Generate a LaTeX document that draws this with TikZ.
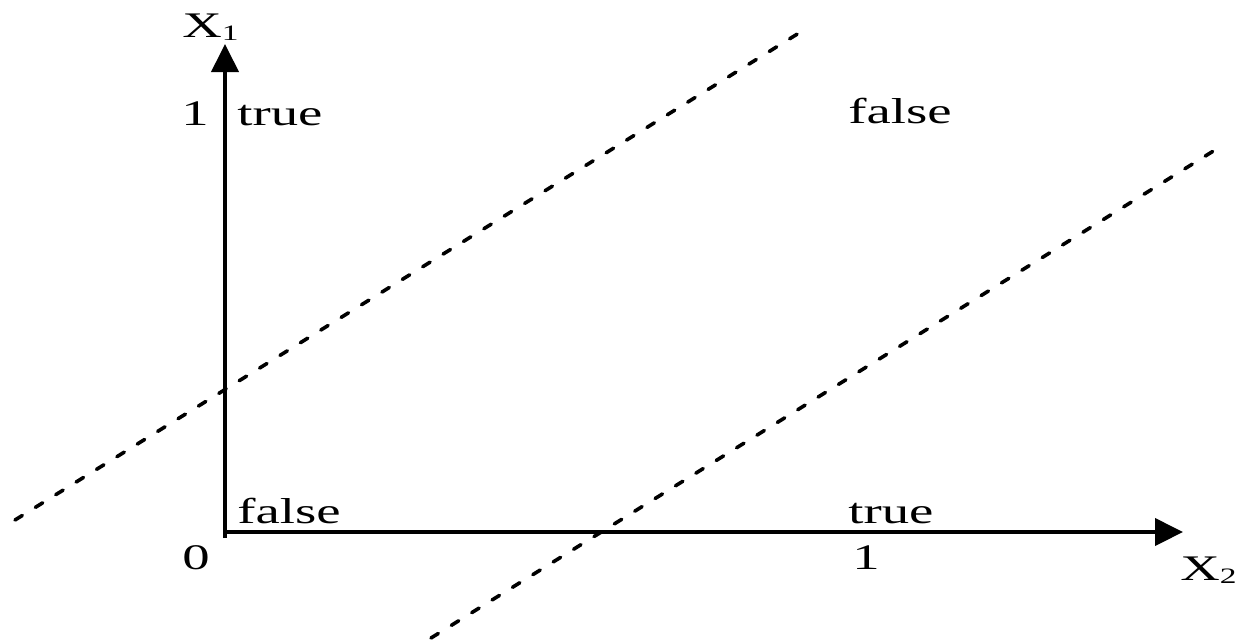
\documentclass[tikz,border=0pt]{standalone}
\usepackage{fontspec}
\setmainfont[FakeStretch=1.52]{Liberation Serif}
\usetikzlibrary{arrows.meta}
\tikzset{
  axis/.style={line width=2pt, -{Triangle[length=14pt,width=13.5pt]}},
  sep/.style={line width=1.8pt, line cap=round, dash pattern=on 4.3pt off 7.7pt},
  lbl/.style={anchor=base west, inner sep=0pt, font=\fontsize{18pt}{20pt}\selectfont}
}
\newcommand{\subidx}[1]{\raisebox{-1.8pt}{\fontsize{11pt}{12pt}\selectfont #1}}
\begin{document}
\begin{tikzpicture}[x=0.5pt,y=-0.5pt]
\useasboundingbox (0,0) rectangle (1235,639);
% axes
\coordinate (o) at (224,532);
\coordinate (vb) at (225,538);
\coordinate (vt) at (225,44);
\coordinate (hr) at (1183,532);
\draw[axis] (vb) -- (vt);
\draw[axis] (o) -- (hr);
% separating lines
\coordinate (a1) at (15,520);
\coordinate (a2) at (807,28);
\coordinate (b1) at (431,638);
\coordinate (b2) at (1223,145);
\draw[sep] (a1) -- (a2);
\draw[sep] (b1) -- (b2);
% labels
\node[lbl] (x1) at (182,37) {X\subidx{1}};
\node[lbl] (one1) at (181,125) {1};
\node[lbl] (t1) at (237,125) {true};
\node[lbl] (f1) at (848,123) {false};
\node[lbl] (f0) at (237,523) {false};
\node[lbl] (t0) at (848,523) {true};
\node[lbl] (zero) at (182,569) {0};
\node[lbl] (one2) at (852,569) {1};
\node[lbl] (x2) at (1180,580) {X\subidx{2}};
\end{tikzpicture}
\end{document}
